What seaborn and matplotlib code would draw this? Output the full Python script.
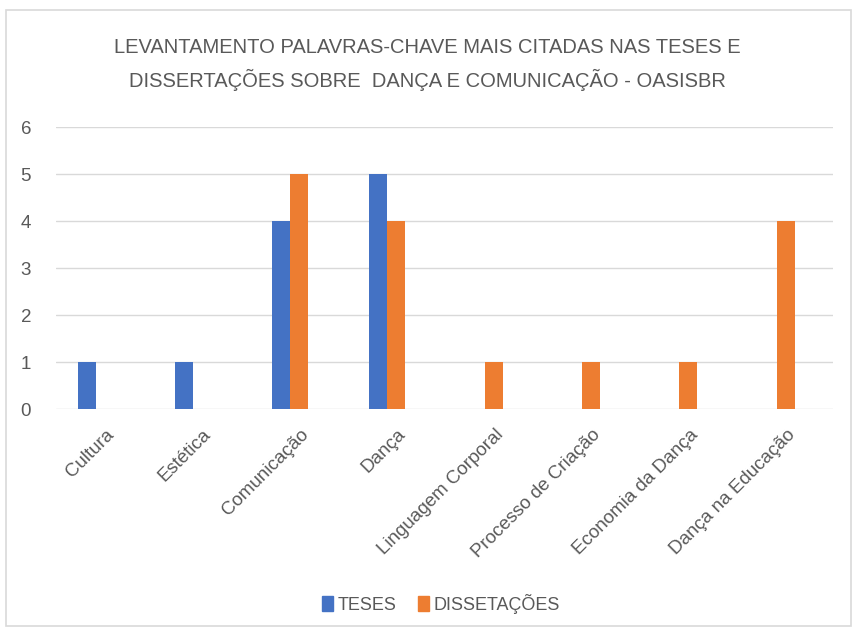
import pandas as pd
import matplotlib.pyplot as plt
import matplotlib.transforms as mtransforms
import seaborn as sns
from matplotlib.patches import Patch, Rectangle

# data
categorias = ['Cultura', 'Estética', 'Comunicação', 'Dança', 'Linguagem Corporal',
              'Processo de Criação', 'Economia da Dança', 'Dança na Educação']
teses = [1, 1, 4, 5, 0, 0, 0, 0]
dissertacoes = [0, 0, 5, 4, 1, 1, 1, 4]
series = ['TESES', 'DISSETAÇÕES']
cores = ['#4472C4', '#ED7D31']

titulo = ('LEVANTAMENTO PALAVRAS-CHAVE MAIS CITADAS NAS TESES E\n'
          'DISSERTAÇÕES SOBRE  DANÇA E COMUNICAÇÃO - OASISBR')

df = pd.DataFrame({
    'Categoria': categorias * 2,
    'Serie': [series[0]] * len(categorias) + [series[1]] * len(categorias),
    'Valor': teses + dissertacoes,
})

#plot setting
sns.set_style('white')
plt.rcParams['font.family'] = ['Liberation Sans', 'DejaVu Sans']
cinza = '#595959'

fig = plt.figure(figsize=(8.54, 6.34), dpi=100)
ax = fig.add_axes([0.0656, 0.3544, 0.910, 0.4448])

sns.barplot(data=df, x='Categoria', y='Valor', hue='Serie', palette=cores,
            saturation=1, width=0.37, gap=0, linewidth=0, ax=ax, legend=False)

# gridlines like excel
ax.set_ylim(0, 6)
ax.set_yticks(range(0, 7))
ax.yaxis.grid(True, color='#D9D9D9', linewidth=1)
ax.set_axisbelow(True)
for s in ax.spines.values():
    s.set_visible(False)
ax.set_xlim(-0.406, 7.58)
ax.set_xlabel('')
ax.set_ylabel('')
ax.tick_params(axis='both', length=0, colors=cinza, labelsize=13.5)
ax.tick_params(axis='y', pad=18)
ax.tick_params(axis='x', pad=12)

# rotated labels, nudged a bit to the right like excel does
offset = mtransforms.ScaledTranslation(7 / 72, 0, fig.dpi_scale_trans)
for lbl in ax.get_xticklabels():
    lbl.set_rotation(45)
    lbl.set_ha('right')
    lbl.set_rotation_mode('anchor')
    lbl.set_transform(lbl.get_transform() + offset)

fig.text(0.5, 0.898, titulo, ha='center', va='center', fontsize=14.5,
         color=cinza, linespacing=1.65)

handles = [Patch(color=c, label=s) for c, s in zip(cores, series)]
fig.legend(handles=handles, loc='center', bbox_to_anchor=(0.516, 0.048), ncol=2,
           frameon=False, fontsize=13, labelcolor=cinza, handlelength=0.6,
           handleheight=0.9, handletextpad=0.25, columnspacing=1.2)

# chart border
fig.patches.append(Rectangle((0.007, 0.012), 0.99, 0.972, transform=fig.transFigure,
                             fill=False, edgecolor='#D9D9D9', linewidth=1.2))

plt.savefig('out.png', dpi=100)
plt.close()
